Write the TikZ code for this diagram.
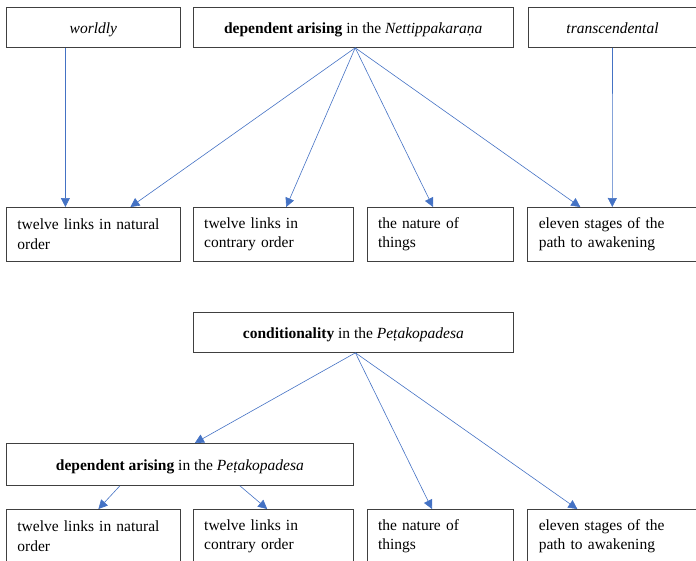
\documentclass[tikz,border=0pt]{standalone}
\usepackage{fontspec}
\setmainfont{Liberation Serif}
\usetikzlibrary{arrows.meta,positioning}
\definecolor{linkblue}{HTML}{4472C4}
\definecolor{boxline}{HTML}{404040}

\begin{document}
\begin{tikzpicture}[
  x=1pt,y=-1pt,
  font=\fontsize{15.5}{19.5}\selectfont,
  head/.style={draw=boxline,line width=0.8pt,minimum height=40pt,
               inner sep=0pt,text height=13pt,text depth=1pt,align=center},
  leaf/.style={draw=boxline,line width=0.8pt,minimum height=54pt,
               inner xsep=11pt,inner ysep=0pt,align=left},
  arr/.style={-{Triangle[length=9pt,width=9pt]},line width=0.6pt,linkblue}
]
  \useasboundingbox (0,0) rectangle (696,560);

  % upper tree
  \node[head,minimum width=174pt,anchor=north west] (worldly) at (6,7) {\textit{worldly}};
  \node[head,minimum width=320pt,right=12pt of worldly] (netti)
    {\textbf{dependent arising} in the \textit{Nettippakaraṇa}};
  \node[head,minimum width=169pt,right=14pt of netti] (transc) {\textit{transcendental}};

  \node[leaf,text width=152pt,anchor=north west] (natA) at (6,207)
    {twelve links in natural\\order};
  \node[leaf,text width=138pt,right=12pt of natA] (conA)
    {twelve links in\\contrary order};
  \node[leaf,text width=124pt,right=13pt of conA] (thA)
    {the nature of\\things};
  \node[leaf,text width=147pt,right=14pt of thA] (pathA)
    {eleven stages of the\\path to awakening};

  \draw[arr] ([xshift=-28pt]worldly.south) -- ([xshift=-28pt]natA.north);
  \draw[arr] (transc.south) -- (pathA.north);
  \draw[arr] ([xshift=2pt]netti.south) -- ([xshift=37pt]natA.north);
  \draw[arr] ([xshift=2pt]netti.south) -- ([xshift=13pt]conA.north);
  \draw[arr] ([xshift=2pt]netti.south) -- ([xshift=-7pt]thA.north);
  \draw[arr] ([xshift=2pt]netti.south) -- ([xshift=-32pt]pathA.north);

  % lower tree
  \node[head,minimum width=320pt,anchor=north west] (cond) at (193,312)
    {\textbf{conditionality} in the \textit{Peṭakopadesa}};
  \node[head,minimum width=347pt,minimum height=42pt,anchor=north west] (dap) at (6,443)
    {\textbf{dependent arising} in the \textit{Peṭakopadesa}};

  \node[leaf,text width=152pt,anchor=north west] (natB) at (6,509)
    {twelve links in natural\\order};
  \node[leaf,text width=138pt,right=12pt of natB] (conB)
    {twelve links in\\contrary order};
  \node[leaf,text width=124pt,right=13pt of conB] (thB)
    {the nature of\\things};
  \node[leaf,text width=147pt,right=14pt of thB] (pathB)
    {eleven stages of the\\path to awakening};

  \draw[arr] ([xshift=2pt]cond.south) -- ([xshift=15pt]dap.north);
  \draw[arr] ([xshift=2pt]cond.south) -- ([xshift=-8pt]thB.north);
  \draw[arr] ([xshift=2pt]cond.south) -- ([xshift=-35pt]pathB.north);
  \draw[arr] ([xshift=-60pt]dap.south) -- ([xshift=5pt]natB.north);
  \draw[arr] ([xshift=60pt]dap.south) -- ([xshift=-6pt]conB.north);
\end{tikzpicture}
\end{document}
